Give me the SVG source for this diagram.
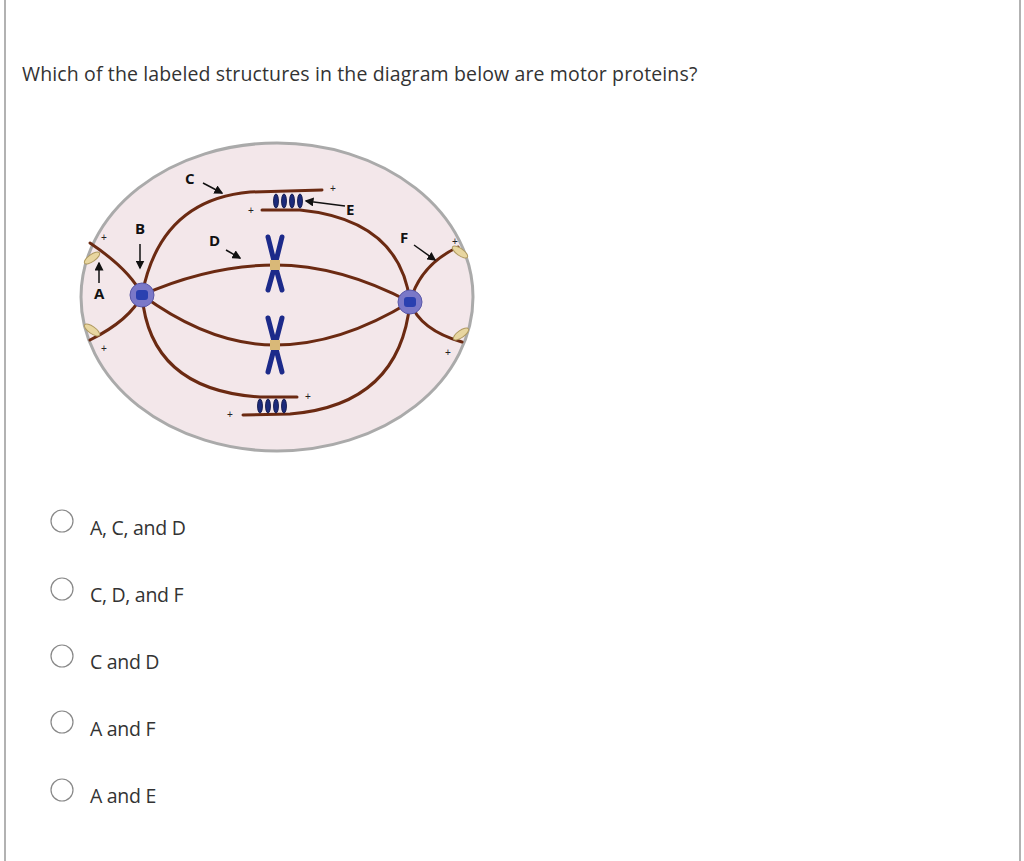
<svg xmlns="http://www.w3.org/2000/svg" width="1024" height="861" viewBox="0 0 1024 861">
<style>
.t{font-family:"Open Sans",sans-serif;font-size:19.5px;fill:#333;letter-spacing:-0.3px}
.mt{fill:none;stroke:#6b2a12;stroke-width:3;stroke-linecap:round}
.lb{font-family:"Open Sans",sans-serif;font-size:15px;font-weight:bold;fill:#111}
.pl{font-family:"Liberation Sans",sans-serif;font-size:10px;fill:#222}
.ar{stroke:#111;stroke-width:1.5;fill:none;marker-end:url(#ah)}
.rad{fill:#fff;stroke:#888;stroke-width:1.2}
.mot{fill:#1c2a7a;stroke:#0a1040;stroke-width:0.8}
.chr{fill:none;stroke:#1c2a8a;stroke-width:5;stroke-linecap:round}
</style>
<defs>
<marker id="ah" markerWidth="6" markerHeight="6" refX="5" refY="3" orient="auto"><path d="M0,0 L6,3 L0,6 Z" fill="#111"/></marker>
</defs>
<rect x="0" y="0" width="1024" height="861" fill="#fff"/>
<path d="M5,0 V861 M1020,0 V861" stroke="#999" stroke-width="1.5"/>
<text class="t" x="22" y="81" textLength="675">Which of the labeled structures in the diagram below are motor proteins?</text>
<g id="cell">
<ellipse cx="277" cy="297" rx="196" ry="154" fill="#f3e7ea" stroke="#aaa" stroke-width="3"/>
</g>
<g id="connectors">
<path class="mt" d="M90,243 Q130,270 142,295 Q130,320 90,340"/>
<path class="mt" d="M458,247 Q420,265 410,302 Q420,330 462,342"/>
<path class="mt" d="M142,295 Q160,200 250,192 L322,190"/>
<path class="mt" d="M262,210 L300,210 Q400,220 410,302"/>
<path class="mt" d="M142,295 Q150,390 260,397 L297,397"/>
<path class="mt" d="M243,415 L290,414 Q400,405 410,302"/>
<path class="mt" d="M142,295 Q210,265 275,265 Q340,265 410,302"/>
<path class="mt" d="M142,295 Q210,345 275,345 Q340,345 410,302"/>
<path class="ar" d="M203,183 L222,193"/>
<path class="ar" d="M345,206 L306,201"/>
<path class="ar" d="M140,244 L140,268"/>
<path class="ar" d="M226,250 L240,258"/>
<path class="ar" d="M414,245 L435,260"/>
<path class="ar" d="M99,283 L99,263"/>
</g>
<g id="motorsA">
<ellipse cx="92" cy="258" rx="9" ry="3.5" fill="#e8d6a0" stroke="#b09a60" transform="rotate(-35 92 258)"/>
<ellipse cx="92" cy="330" rx="9" ry="3.5" fill="#e8d6a0" stroke="#b09a60" transform="rotate(35 92 330)"/>
<ellipse cx="460" cy="252" rx="9" ry="3.5" fill="#e8d6a0" stroke="#b09a60" transform="rotate(35 460 252)"/>
<ellipse cx="461" cy="334" rx="9" ry="3.5" fill="#e8d6a0" stroke="#b09a60" transform="rotate(-35 461 334)"/>
</g>
<g id="centrosomeL"><circle cx="142" cy="295" r="12" fill="#7a78c8" stroke="#5a58a8"/><rect x="136" y="290" width="12" height="10" rx="3" fill="#2a40b0"/></g>
<g id="centrosomeR"><circle cx="410" cy="302" r="12" fill="#7a78c8" stroke="#5a58a8"/><rect x="404" y="297" width="12" height="10" rx="3" fill="#2a40b0"/></g>
<g id="chromosome1">
<path class="chr" d="M268,237 L275,265 L282,237 M268,290 L275,265 L282,290"/>
<rect x="270" y="260" width="10" height="10" fill="#d9b878"/>
</g>
<g id="chromosome2">
<path class="chr" d="M268,318 L275,345 L282,318 M268,372 L275,345 L282,372"/>
<rect x="270" y="340" width="10" height="10" fill="#d9b878"/>
</g>
<g id="motorsE">
<ellipse class="mot" cx="276" cy="201" rx="2.5" ry="7"/><ellipse class="mot" cx="284" cy="201" rx="2.5" ry="7"/><ellipse class="mot" cx="292" cy="201" rx="2.5" ry="7"/><ellipse class="mot" cx="300" cy="201" rx="2.5" ry="7"/>
<ellipse class="mot" cx="260" cy="406" rx="2.5" ry="7"/><ellipse class="mot" cx="268" cy="406" rx="2.5" ry="7"/><ellipse class="mot" cx="276" cy="406" rx="2.5" ry="7"/><ellipse class="mot" cx="284" cy="406" rx="2.5" ry="7"/>
</g>
<g id="labels">
<text class="lb" x="185" y="184">C</text>
<text class="lb" x="346" y="215">E</text>
<text class="lb" x="135" y="234">B</text>
<text class="lb" x="209" y="246">D</text>
<text class="lb" x="400" y="243">F</text>
<text class="lb" x="94" y="299">A</text>
<text class="pl" x="330" y="192">+</text>
<text class="pl" x="248" y="214">+</text>
<text class="pl" x="101" y="241">+</text>
<text class="pl" x="101" y="352">+</text>
<text class="pl" x="452" y="245">+</text>
<text class="pl" x="445" y="356">+</text>
<text class="pl" x="305" y="400">+</text>
<text class="pl" x="227" y="418">+</text>
</g>
<g id="options">
<circle class="rad" cx="62" cy="521" r="11"/><text class="t" x="90" y="535">A, C, and D</text>
<circle class="rad" cx="62" cy="589" r="11"/><text class="t" x="90" y="602">C, D, and F</text>
<circle class="rad" cx="62" cy="656" r="11"/><text class="t" x="90" y="669">C and D</text>
<circle class="rad" cx="62" cy="722" r="11"/><text class="t" x="90" y="736">A and F</text>
<circle class="rad" cx="62" cy="790" r="11"/><text class="t" x="90" y="803">A and E</text>
</g>
</svg>
